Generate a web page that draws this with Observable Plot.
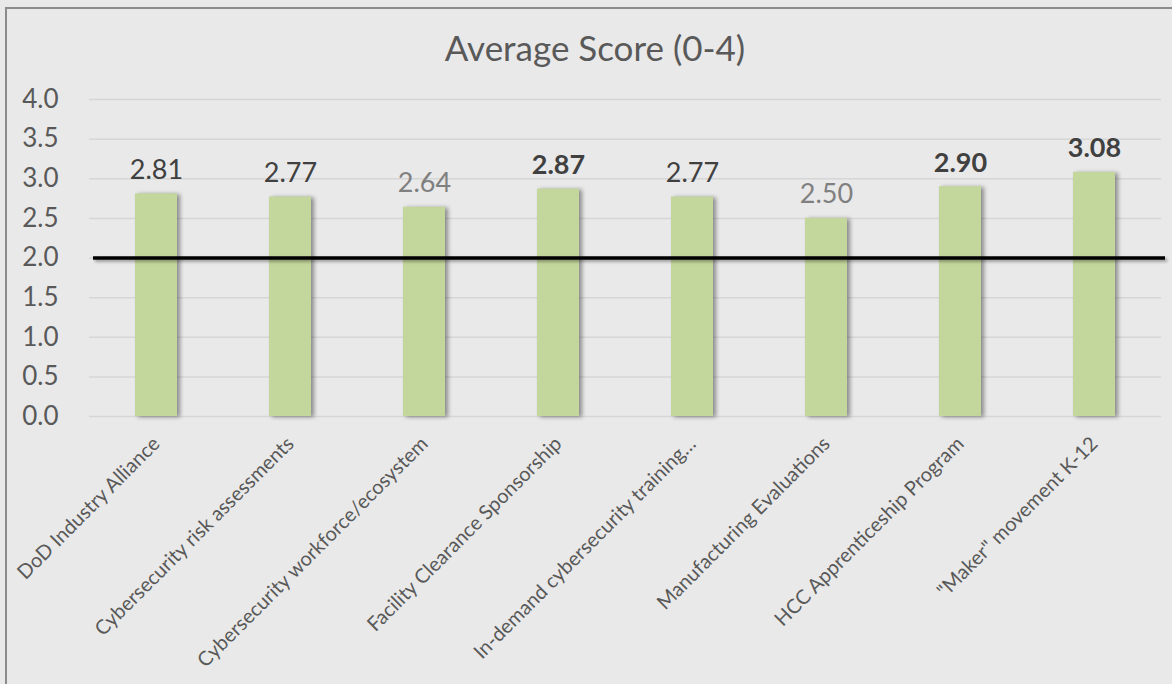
<!DOCTYPE html>
<html>
<head>
<meta charset="utf-8">
<script src="https://cdn.jsdelivr.net/npm/d3@7"></script>
<script src="https://cdn.jsdelivr.net/npm/@observablehq/plot@0.6"></script>
<style>
  html, body { margin: 0; padding: 0; background: #e9e9e9; width: 1172px; height: 684px; overflow: hidden; }
  #frame { position: absolute; left: 5px; top: 7px; width: 1200px; height: 720px; border: 2px solid #8c8c8c; box-sizing: border-box; }
  #title { position: absolute; left: 0; top: 30px; width: 1190px; text-align: center; font-family: Lato, sans-serif; font-size: 35px; line-height: 35px; color: #595959; }
  #chart { position: absolute; left: 0; top: 80px; }
</style>
</head>
<body>
<div id="frame"></div>
<div id="title">Average Score (0-4)</div>
<div id="chart"></div>
<script>
const categories = [
  "DoD Industry Alliance",
  "Cybersecurity risk assessments",
  "Cybersecurity workforce/ecosystem",
  "Facility Clearance Sponsorship",
  "In-demand cybersecurity training…",
  "Manufacturing Evaluations",
  "HCC Apprenticeship Program",
  "\"Maker\" movement K-12"
];
const scores = [2.81, 2.77, 2.64, 2.87, 2.77, 2.50, 2.90, 3.08];
const yTicks = [0, 0.5, 1, 1.5, 2, 2.5, 3, 3.5, 4];
const threshold = 2.0;

const data = categories.map((c, i) => ({category: c, score: scores[i]}));
const bold = data.filter(d => d.score > 2.85);
const muted = data.filter(d => d.score < 2.7);
const normal = data.filter(d => d.score <= 2.85 && d.score >= 2.7);

const labelOpts = {x: "category", y: "score", text: d => d.score.toFixed(2), dy: -15, lineAnchor: "bottom", fontSize: 27};

const chart = Plot.plot({
  width: 1172,
  height: 604,
  marginTop: 19,
  marginBottom: 268,
  marginLeft: 89,
  marginRight: 11,
  style: {fontFamily: "Lato, sans-serif", color: "#595959", background: "transparent", overflow: "visible"},
  x: {domain: categories, paddingInner: 0.69, paddingOuter: 0.345, label: null},
  y: {domain: [0, 4], label: null},
  marks: [
    Plot.gridY(yTicks, {stroke: "#d6d6d6", strokeOpacity: 1, strokeWidth: 1.5}),
    Plot.axisY(yTicks, {tickFormat: d3.format(".1f"), tickSize: 0, tickPadding: 31, fontSize: 26, label: null}),
    Plot.axisX({tickRotate: -45, tickSize: 0, tickPadding: 24, dx: 0, fontSize: 20, label: null}),
    Plot.barY(data, {x: "category", y: "score", fill: "#c3d69b"}),
    Plot.ruleY([threshold], {stroke: "#000", strokeWidth: 3.5, insetLeft: 4, insetRight: -4}),
    Plot.text(normal, {...labelOpts, fill: "#404040"}),
    Plot.text(muted, {...labelOpts, fill: "#808080"}),
    Plot.text(bold, {...labelOpts, fill: "#404040", fontWeight: "bold"})
  ]
});
document.getElementById("chart").appendChild(chart);
d3.select(chart).selectAll("g[aria-label='bar'] rect").style("filter", "drop-shadow(3px 1px 2px rgba(0,0,0,0.4))");
d3.select(chart).selectAll("g[aria-label='rule'] line").style("filter", "drop-shadow(2px 2px 1.5px rgba(0,0,0,0.35))");
</script>
</body>
</html>
